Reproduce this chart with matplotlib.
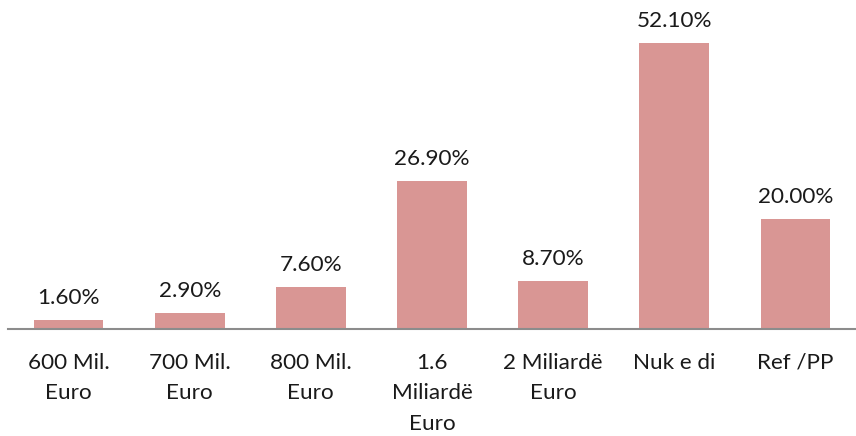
import matplotlib
matplotlib.use("Agg")
import matplotlib.pyplot as plt
import numpy as np

categories = ["600 Mil.\nEuro", "700 Mil.\nEuro", "800 Mil.\nEuro", "1.6\nMiliardë\nEuro",
              "2 Miliardë\nEuro", "Nuk e di", "Ref /PP"]
values = [1.6, 2.9, 7.6, 26.9, 8.7, 52.1, 20.0]
value_labels = ["1.60%", "2.90%", "7.60%", "26.90%", "8.70%", "52.10%", "20.00%"]

plt.rcParams["font.family"] = ["Lato", "DejaVu Sans"]

fig = plt.figure(figsize=(8.56, 4.36), dpi=100)
ax = fig.add_axes([8 / 856, 107 / 436, 848 / 856, 329 / 436])

x = np.arange(len(categories))
bars = ax.bar(x, values, width=0.575, color="#D99694")

for xi, v, lab in zip(x, values, value_labels):
    ax.annotate(lab, (xi, v), xytext=(0, 9), textcoords="offset points",
                ha="center", va="bottom", fontsize=16.2, color="#1a1a1a")

ax.set_xlim(-0.5, len(categories) - 0.5)
ax.set_ylim(0, 60)
ax.set_xticks(x)
ax.set_xticklabels(categories, fontsize=16.2, color="#1a1a1a", linespacing=1.68)
ax.tick_params(axis="x", length=0, pad=17)
ax.set_yticks([])
for side in ["top", "right", "left"]:
    ax.spines[side].set_visible(False)
ax.spines["bottom"].set_color("#8c8c8c")
ax.spines["bottom"].set_linewidth(1.5)

fig.savefig("out.png", dpi=100)
